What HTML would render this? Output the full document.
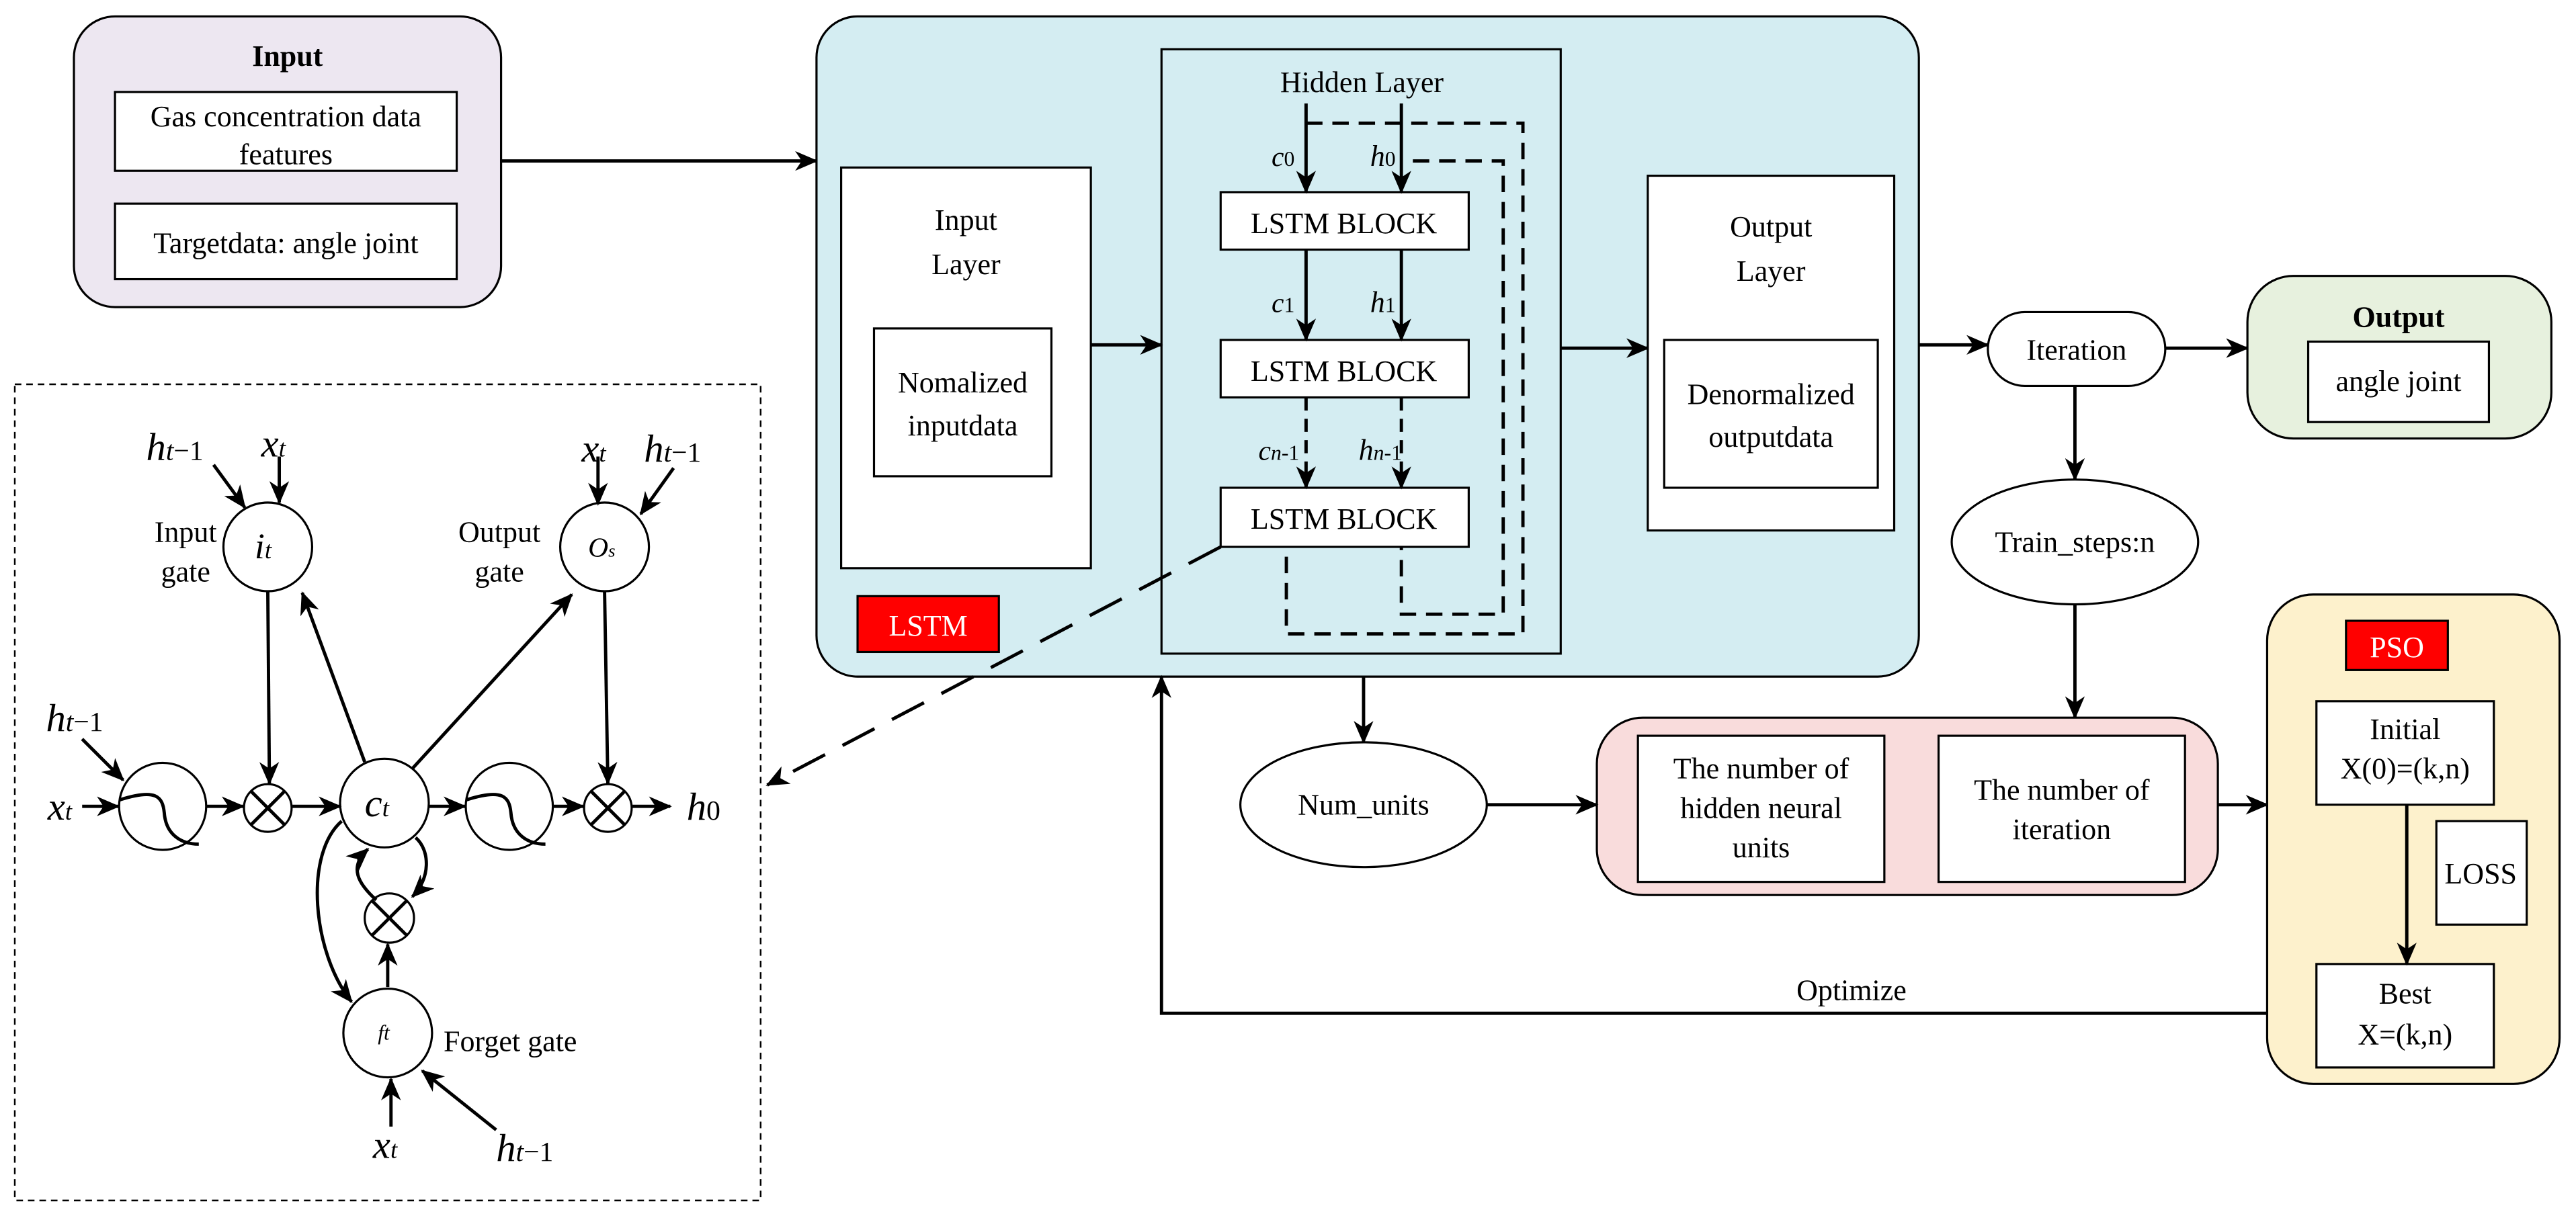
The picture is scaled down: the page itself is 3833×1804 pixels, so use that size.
<!DOCTYPE html>
<html><head><meta charset="utf-8"><style>
html,body{margin:0;padding:0;background:#fff;}
svg{display:block;}
svg text{font-family:"Liberation Serif","Tinos","Times New Roman",Times,"DejaVu Serif",serif !important;fill:#000;}
.t{font-size:18px;text-anchor:middle;}
.i{font-style:italic;}
</style></head><body>
<svg width="3833" height="1804" viewBox="0 0 1568 738" preserveAspectRatio="none" xmlns="http://www.w3.org/2000/svg">
<defs>
<marker id="a" markerUnits="userSpaceOnUse" markerWidth="14" markerHeight="12" refX="13" refY="6" orient="auto">
<path d="M0,0 L14,6 L0,12 L4,6 Z" fill="#000"/></marker>
</defs>
<g stroke="#000" stroke-width="1.3" fill="none">
<rect x="45" y="10" width="260" height="177" rx="25" fill="#ede7f1"/>
<rect x="70" y="56" width="208" height="48" fill="#fff"/>
<rect x="70" y="124" width="208" height="46" fill="#fff"/>
<line x1="305" y1="98" x2="497" y2="98" stroke-width="2" marker-end="url(#a)"/>
<rect x="497" y="10" width="671" height="402" rx="25" fill="#d4edf2"/>
<rect x="512" y="102" width="152" height="244" fill="#fff"/>
<rect x="532" y="200" width="108" height="90" fill="#fff"/>
<line x1="664" y1="210" x2="707" y2="210" stroke-width="2" marker-end="url(#a)"/>
<rect x="707" y="30" width="243" height="368"/>
<rect x="743" y="117" width="151" height="35" fill="#fff"/>
<rect x="743" y="207" width="151" height="35" fill="#fff"/>
<rect x="743" y="297" width="151" height="36" fill="#fff"/>
<line x1="795" y1="63" x2="795" y2="117" stroke-width="2" marker-end="url(#a)"/>
<line x1="853" y1="63" x2="853" y2="117" stroke-width="2" marker-end="url(#a)"/>
<line x1="795" y1="152" x2="795" y2="207" stroke-width="2" marker-end="url(#a)"/>
<line x1="853" y1="152" x2="853" y2="207" stroke-width="2" marker-end="url(#a)"/>
<line x1="795" y1="242" x2="795" y2="297" stroke-width="2" stroke-dasharray="8,5" marker-end="url(#a)"/>
<line x1="853" y1="242" x2="853" y2="297" stroke-width="2" stroke-dasharray="8,5" marker-end="url(#a)"/>
<path d="M795,75 H927 V386 H783 V333" stroke-width="2" stroke-dasharray="10,6"/>
<path d="M860,98 H915 V374 H853 V333" stroke-width="2" stroke-dasharray="10,6"/>
<line x1="950" y1="212" x2="1003" y2="212" stroke-width="2" marker-end="url(#a)"/>
<rect x="1003" y="107" width="150" height="216" fill="#fff"/>
<rect x="1013" y="207" width="130" height="90" fill="#fff"/>
<rect x="522" y="363" width="86" height="34" fill="#f00"/>
<line x1="1168" y1="210" x2="1210" y2="210" stroke-width="2" marker-end="url(#a)"/>
<rect x="1210" y="190" width="108" height="45" rx="22.5" fill="#fff"/>
<line x1="1318" y1="212" x2="1368" y2="212" stroke-width="2" marker-end="url(#a)"/>
<rect x="1368" y="168" width="185" height="99" rx="28" fill="#e7f1de"/>
<rect x="1405" y="208" width="110" height="49" fill="#fff"/>
<line x1="1263" y1="235" x2="1263" y2="292" stroke-width="2" marker-end="url(#a)"/>
<ellipse cx="1263" cy="330" rx="75" ry="38" fill="#fff"/>
<line x1="1263" y1="368" x2="1263" y2="437" stroke-width="2" marker-end="url(#a)"/>
<rect x="972" y="437" width="378" height="108" rx="28" fill="#f9dcdc"/>
<rect x="997" y="448" width="150" height="89" fill="#fff"/>
<rect x="1180" y="448" width="150" height="89" fill="#fff"/>
<line x1="830" y1="412" x2="830" y2="452" stroke-width="2" marker-end="url(#a)"/>
<ellipse cx="830" cy="490" rx="75" ry="38" fill="#fff"/>
<line x1="905" y1="490" x2="972" y2="490" stroke-width="2" marker-end="url(#a)"/>
<line x1="1350" y1="490" x2="1380" y2="490" stroke-width="2" marker-end="url(#a)"/>
<rect x="1380" y="362" width="178" height="298" rx="28" fill="#fdf1cc"/>
<rect x="1428" y="378" width="62" height="30" fill="#f00"/>
<rect x="1410" y="427" width="108" height="63" fill="#fff"/>
<rect x="1483" y="500" width="55" height="63" fill="#fff"/>
<rect x="1410" y="587" width="108" height="63" fill="#fff"/>
<line x1="1465" y1="490" x2="1465" y2="587" stroke-width="2" marker-end="url(#a)"/>
<path d="M1380,617 H707 V412" stroke-width="2" marker-end="url(#a)"/>
<line x1="743" y1="333" x2="467" y2="478" stroke-width="2" stroke-dasharray="22,12" marker-end="url(#a)"/>
<rect x="9" y="234" width="454" height="497" stroke-dasharray="4,3" stroke-width="1"/>
<circle cx="99" cy="491" r="26.5"/>
<path d="M73,487 C95,480 99,485 100,495 C101,508 110,514 121,514" stroke-width="2"/>
<circle cx="310" cy="491" r="26.5"/>
<path d="M284,487 C306,480 310,485 311,495 C312,508 321,514 332,514" stroke-width="2"/>
<circle cx="163" cy="492" r="14.5"/>
<path d="M153,482 L173,502 M173,482 L153,502" stroke-width="2"/>
<circle cx="370" cy="492" r="14.5"/>
<path d="M360,482 L380,502 M380,482 L360,502" stroke-width="2"/>
<circle cx="237" cy="559" r="15"/>
<path d="M226,548 L248,570 M248,548 L226,570" stroke-width="2"/>
<circle cx="234" cy="489" r="27"/>
<circle cx="163" cy="333" r="27"/>
<circle cx="368" cy="333" r="27"/>
<circle cx="236" cy="629" r="27"/>
<g stroke-width="2">
<line x1="50" y1="491" x2="72" y2="491" marker-end="url(#a)"/>
<line x1="126" y1="491" x2="148" y2="491" marker-end="url(#a)"/>
<line x1="178" y1="491" x2="207" y2="491" marker-end="url(#a)"/>
<line x1="261" y1="491" x2="283" y2="491" marker-end="url(#a)"/>
<line x1="337" y1="491" x2="355" y2="491" marker-end="url(#a)"/>
<line x1="385" y1="491" x2="408" y2="491" marker-end="url(#a)"/>
<line x1="50" y1="450" x2="75" y2="475" marker-end="url(#a)"/>
<line x1="163" y1="360" x2="164" y2="477" marker-end="url(#a)"/>
<line x1="222" y1="464" x2="184" y2="361" marker-end="url(#a)"/>
<line x1="251" y1="468" x2="348" y2="362" marker-end="url(#a)"/>
<line x1="368" y1="360" x2="370" y2="477" marker-end="url(#a)"/>
<line x1="130" y1="283" x2="149" y2="309" marker-end="url(#a)"/>
<line x1="170" y1="278" x2="170" y2="306" marker-end="url(#a)"/>
<line x1="364" y1="278" x2="364" y2="307" marker-end="url(#a)"/>
<line x1="410" y1="285" x2="390" y2="313" marker-end="url(#a)"/>
<line x1="236" y1="601" x2="236" y2="575" marker-end="url(#a)"/>
<line x1="238" y1="686" x2="238" y2="657" marker-end="url(#a)"/>
<line x1="302" y1="688" x2="257" y2="652" marker-end="url(#a)"/>
<path d="M208,500 C185,520 190,580 214,610" marker-end="url(#a)"/>
<path d="M229,548 C218,538 212,528 224,517" marker-end="url(#a)"/>
<path d="M253,510 C262,518 262,535 251,546" marker-end="url(#a)"/>
</g>
</g>
<g>
<text class="t" x="175" y="40" font-weight="bold">Input</text>
<text class="t" x="174" y="77">Gas concentration data</text>
<text class="t" x="174" y="100">features</text>
<text class="t" x="174" y="154">Targetdata: angle joint</text>
<text class="t" x="588" y="140">Input</text>
<text class="t" x="588" y="167">Layer</text>
<text class="t" x="586" y="239">Nomalized</text>
<text class="t" x="586" y="265">inputdata</text>
<text class="t" x="829" y="56">Hidden Layer</text>
<text class="t" x="818" y="142" font-size="19">LSTM BLOCK</text>
<text class="t" x="818" y="232" font-size="19">LSTM BLOCK</text>
<text class="t" x="818" y="322" font-size="19">LSTM BLOCK</text>
<text x="774" y="101" font-size="17" class="i">c<tspan font-style="normal" font-size="13">0</tspan></text>
<text x="834" y="101" font-size="18" class="i">h<tspan font-style="normal" font-size="13">0</tspan></text>
<text x="774" y="190" font-size="17" class="i">c<tspan font-style="normal" font-size="13">1</tspan></text>
<text x="834" y="190" font-size="18" class="i">h<tspan font-style="normal" font-size="13">1</tspan></text>
<text x="766" y="280" font-size="17" class="i">c<tspan font-size="13">n</tspan><tspan font-style="normal" font-size="13">-1</tspan></text>
<text x="827" y="280" font-size="18" class="i">h<tspan font-size="13">n</tspan><tspan font-style="normal" font-size="13">-1</tspan></text>
<text class="t" x="1078" y="144">Output</text>
<text class="t" x="1078" y="171">Layer</text>
<text class="t" x="1078" y="246">Denormalized</text>
<text class="t" x="1078" y="272">outputdata</text>
<text class="t" x="565" y="387" style="fill:#fff">LSTM</text>
<text class="t" x="1264" y="219">Iteration</text>
<text class="t" x="1460" y="199" font-weight="bold">Output</text>
<text class="t" x="1460" y="238">angle joint</text>
<text class="t" x="1263" y="336">Train_steps:n</text>
<text class="t" x="830" y="496">Num_units</text>
<text class="t" x="1072" y="474">The number of</text>
<text class="t" x="1072" y="498">hidden neural</text>
<text class="t" x="1072" y="522">units</text>
<text class="t" x="1255" y="487">The number of</text>
<text class="t" x="1255" y="511">iteration</text>
<text class="t" x="1459" y="400" style="fill:#fff">PSO</text>
<text class="t" x="1464" y="450">Initial</text>
<text class="t" x="1464" y="474">X(0)=(k,n)</text>
<text class="t" x="1510" y="538" font-size="16">LOSS</text>
<text class="t" x="1464" y="611">Best</text>
<text class="t" x="1464" y="636">X=(k,n)</text>
<text class="t" x="1127" y="609">Optimize</text>
<g font-size="24">
<text x="89" y="280" class="i">h<tspan font-size="17">t</tspan><tspan font-size="17" font-style="normal">−1</tspan></text>
<text x="159" y="278" class="i">x<tspan font-size="15">t</tspan></text>
<text x="354" y="281" class="i">x<tspan font-size="15">t</tspan></text>
<text x="392" y="281" class="i">h<tspan font-size="17">t</tspan><tspan font-size="17" font-style="normal">−1</tspan></text>
<text x="28" y="445" class="i">h<tspan font-size="17">t</tspan><tspan font-size="17" font-style="normal">−1</tspan></text>
<text x="29" y="499" class="i">x<tspan font-size="15">t</tspan></text>
<text x="222" y="497" class="i">c<tspan font-size="15">t</tspan></text>
<text x="418" y="499" class="i">h<tspan font-size="17" font-style="normal">0</tspan></text>
<text x="227" y="705" class="i">x<tspan font-size="15">t</tspan></text>
<text x="302" y="707" class="i">h<tspan font-size="17">t</tspan><tspan font-size="17" font-style="normal">−1</tspan></text>
</g>
<text x="155" y="340" font-size="22" class="i">i<tspan font-size="15">t</tspan></text>
<text x="358" y="339" font-size="17" class="i">O<tspan font-size="11">s</tspan></text>
<text x="230" y="633" font-size="13" class="i">ft</text>
<text class="t" x="113" y="330">Input</text>
<text class="t" x="113" y="354">gate</text>
<text class="t" x="304" y="330">Output</text>
<text class="t" x="304" y="354">gate</text>
<text x="270" y="640" font-size="18">Forget gate</text>
</g>
</svg>
</body></html>
